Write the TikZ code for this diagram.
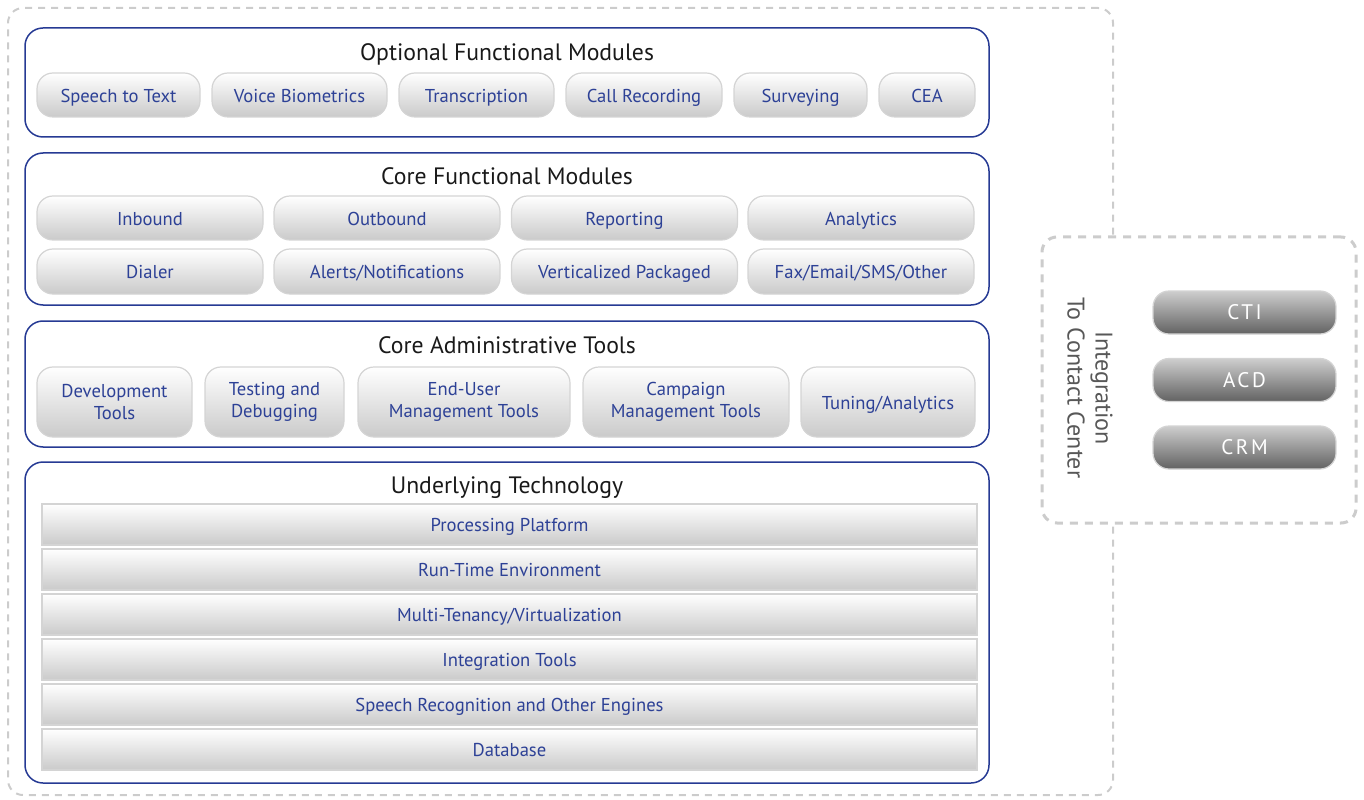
\documentclass[tikz,border=0pt]{standalone}
\usepackage{fontspec}
\setmainfont{PT Sans}
\usetikzlibrary{positioning, calc}
\definecolor{navy}{RGB}{38, 58, 148}
\definecolor{btntext}{RGB}{45, 65, 150}
\definecolor{btnrim}{RGB}{212, 212, 212}
\definecolor{btnlow}{RGB}{202, 202, 202}
\definecolor{btnmid}{RGB}{236, 236, 236}
\definecolor{dashgray}{RGB}{204, 204, 204}
\definecolor{darktop}{RGB}{206, 206, 206}
\definecolor{darklow}{RGB}{98, 98, 98}
\definecolor{sidetext}{RGB}{88, 88, 88}
\newlength\px
\setlength\px{0.02cm}

\begin{document}
\begin{tikzpicture}[
  x=0.02cm, y=-0.02cm,
  panel/.style={rectangle, rounded corners=18\px, draw=navy, line width=1.5\px},
  heading/.style={inner sep=0pt, font=\fontsize{13.5}{16}\selectfont, text=black!90},
  btn/.style={rectangle, rounded corners=16\px, draw=btnrim, line width=1.2\px,
              top color=white, middle color=btnmid, bottom color=btnlow,
              align=center, text=btntext, font=\fontsize{10.6}{12.5}\selectfont},
  btnline/.style={btn, text height=9pt, text depth=0.5pt},
  bar/.style={rectangle, draw=btnrim, line width=1.5\px,
              top color=white, middle color=btnmid, bottom color=btnlow,
              minimum width=935\px, minimum height=41\px,
              text height=9pt, text depth=0.5pt,
              text=btntext, font=\fontsize{10.6}{12}\selectfont},
  darkbtn/.style={rectangle, rounded corners=16\px, draw=btnrim, line width=1.2\px,
              top color=darktop, bottom color=darklow,
              minimum width=183\px, minimum height=43\px, text=white,
              font=\fontsize{12}{14}\selectfont\addfontfeature{LetterSpace=12}},
  dashbox/.style={rectangle, rounded corners=15\px, draw=dashgray,
              line width=2\px, dash pattern=on 7\px off 6\px}
]
  \useasboundingbox (0,0) rectangle (1364,800);

  % outer frame and contact center box
  \node[dashbox, minimum width=1105\px, minimum height=787\px] (outer) at (560.5,401.5) {};
  \node[dashbox, line width=3\px, dash pattern=on 8\px off 7\px, fill=white,
        minimum width=314\px, minimum height=286\px] (integ) at (1199,380) {};
  \node[rotate=-90, align=center, text=sidetext, font=\fontsize{13.7}{16}\selectfont]
        (integlbl) at (1090,388) {Integration\\To Contact Center};
  \node[darkbtn] (cti) at (1244.5,312.5) {CTI};
  \node[darkbtn] (acd) at (1244.5,380) {ACD};
  \node[darkbtn] (crm) at (1244.5,447.5) {CRM};

  % optional functional modules
  \node[panel, minimum width=964\px, minimum height=109\px] (optional) at (507,82.5) {};
  \node[heading] (optionaltitle) at ($(optional.north)+(0,27)$) {Optional Functional Modules};
  \node[btnline, minimum width=163\px, minimum height=44\px] (stt) at (118.5,95) {Speech to Text};
  \node[btnline, minimum width=175\px, minimum height=44\px] (voice) at (299.5,95) {Voice Biometrics};
  \node[btnline, minimum width=155\px, minimum height=44\px] (transc) at (476.5,95) {Transcription};
  \node[btnline, minimum width=156\px, minimum height=44\px] (callrec) at (644,95) {Call Recording};
  \node[btnline, minimum width=133\px, minimum height=44\px] (survey) at (800.5,95) {Surveying};
  \node[btnline, minimum width=96\px, minimum height=44\px] (cea) at (927,95) {CEA};

  % core functional modules
  \node[panel, minimum width=964\px, minimum height=152\px] (core) at (507,229) {};
  \node[heading] (coretitle) at ($(core.north)+(0,24)$) {Core Functional Modules};
  \node[btnline, minimum width=226\px, minimum height=44\px] (inbound) at (150,218) {Inbound};
  \node[btnline, minimum width=226\px, minimum height=44\px] (outbound) at (387,218) {Outbound};
  \node[btnline, minimum width=226\px, minimum height=44\px] (reporting) at (624.5,218) {Reporting};
  \node[btnline, minimum width=226\px, minimum height=44\px] (analytics) at (861,218) {Analytics};
  \node[btnline, minimum width=226\px, minimum height=45\px] (dialer) at (150,271.5) {Dialer};
  \node[btnline, minimum width=226\px, minimum height=45\px] (alerts) at (387,271.5) {Alerts/Notifications};
  \node[btnline, minimum width=226\px, minimum height=45\px] (vertical) at (624.5,271.5) {Verticalized Packaged};
  \node[btnline, minimum width=226\px, minimum height=45\px] (fax) at (861,271.5) {Fax/Email/SMS/Other};

  % core administrative tools
  \node[panel, minimum width=964\px, minimum height=126\px] (admin) at (507,384) {};
  \node[heading] (admintitle) at ($(admin.north)+(0,25)$) {Core Administrative Tools};
  \node[btn, minimum width=155\px, minimum height=70\px] (devtools) at (114.5,402) {Development\\Tools};
  \node[btn, minimum width=139\px, minimum height=70\px] (testing) at (274.5,402) {Testing and\\Debugging};
  \node[btn, minimum width=212\px, minimum height=70\px] (enduser) at (464,402) {End-User\\Management Tools};
  \node[btn, minimum width=206\px, minimum height=70\px] (campaign) at (686,402) {Campaign\\Management Tools};
  \node[btnline, minimum width=174\px, minimum height=70\px] (tuning) at (888,402) {Tuning/Analytics};

  % underlying technology
  \node[panel, minimum width=964\px, minimum height=321\px] (under) at (507,622.5) {};
  \node[heading] (undertitle) at ($(under.north)+(0,26)$) {Underlying Technology};
  \node[bar] (platform) at (509.5,524.5) {Processing Platform};
  \node[bar, below=2.5\px of platform] (runtime) {Run-Time Environment};
  \node[bar, below=2.5\px of runtime] (tenancy) {Multi-Tenancy/Virtualization};
  \node[bar, below=2.5\px of tenancy] (inttools) {Integration Tools};
  \node[bar, below=2.5\px of inttools] (engines) {Speech Recognition and Other Engines};
  \node[bar, below=2.5\px of engines] (database) {Database};
\end{tikzpicture}
\end{document}
